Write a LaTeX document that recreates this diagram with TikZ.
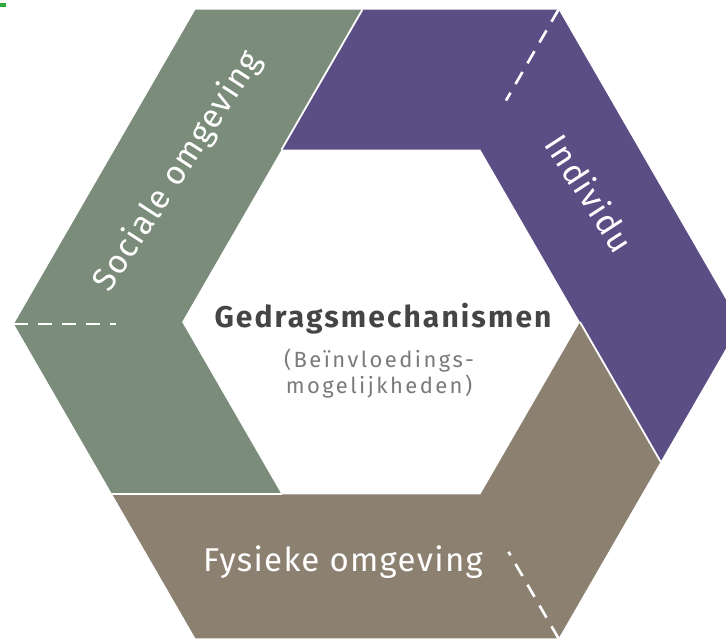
\documentclass[tikz,border=0pt]{standalone}
\usepackage{fontspec}
\setmainfont{Fira Sans}
\newfontfamily\titlefont{Fira Sans}[LetterSpace=7]
\newfontfamily\subfont{Fira Sans}[LetterSpace=11]
\newfontfamily\bandfont{Fira Sans}[LetterSpace=4]
\definecolor{sgreen}{HTML}{7B8C7B}
\definecolor{ipurple}{HTML}{5A4E85}
\definecolor{fbrown}{HTML}{8C8070}
\definecolor{tdark}{HTML}{454545}
\definecolor{tgray}{HTML}{7A7A7A}
\definecolor{markgreen}{HTML}{2FA83A}
\begin{document}
\begin{tikzpicture}[x={(1pt,0pt)}, y={(0pt,-1pt)},
  band/.style={draw=white, line width=1.8pt, line join=miter},
  dashline/.style={draw=white, line width=2.6pt, dash pattern=on 14pt off 10pt},
  bandlabel/.style={text=white, font=\bandfont\fontsize{33}{38}\selectfont, inner sep=0pt},
  title/.style={text=tdark, font=\titlefont\bfseries\fontsize{30}{34}\selectfont, inner sep=0pt},
  subtitle/.style={text=tgray, font=\subfont\fontsize{22}{26}\selectfont, inner sep=0pt},
]
\useasboundingbox (0,0) rectangle (726,638);
% outer hexagon
\coordinate (O0) at (740,324);
\coordinate (O60) at (558.5,9.6);
\coordinate (O120) at (195.5,9.6);
\coordinate (O180) at (14,324);
\coordinate (O240) at (195.5,638.4);
\coordinate (O300) at (558.5,638.4);
% inner hexagon
\coordinate (I0) at (580,322);
\coordinate (I60) at (480.5,149.7);
\coordinate (I120) at (281.5,149.7);
\coordinate (I180) at (182,322);
\coordinate (I240) at (281.5,494.3);
\coordinate (I300) at (480.5,494.3);
% split points
\coordinate (Pgp) at (362.4,9.6);
\coordinate (Ppb) at (660.6,461.6);
\coordinate (Pgb) at (112.3,494.3);
% dash ends
\coordinate (Dg) at (116,324);
\coordinate (Dp) at (506,100.5);
\coordinate (Db) at (508.5,551.8);
\begin{scope}
\clip (0,0) rectangle (726,638);
\fill[sgreen] (O120) -- (Pgp) -- (I120) -- (I180) -- (I240) -- (Pgb) -- (O180) -- cycle;
\fill[ipurple] (Pgp) -- (O60) -- (O0) -- (Ppb) -- (I0) -- (I60) -- (I120) -- cycle;
\fill[fbrown] (Ppb) -- (O300) -- (O240) -- (Pgb) -- (I240) -- (I300) -- (I0) -- cycle;
\draw[band] (Pgp) -- (I120);
\draw[band] (Ppb) -- (I0);
\draw[band] (Pgb) -- (I240);
\draw[dashline] (O180) -- (Dg);
\draw[dashline] (O60) -- (Dp);
\draw[dashline] (O300) -- (Db);
\end{scope}
\fill[markgreen] (0,3) rectangle (6,7);
% labels
\node[bandlabel, rotate=57] (soc) at (178,172) {Sociale omgeving};
\node[bandlabel, rotate=-57] (ind) at (590,193) {Individu};
\node[bandlabel, anchor=base] (fys) at (343,571) {Fysieke omgeving};
\node[title, anchor=base] (ged) at (383,327) {Gedragsmechanismen};
\node[subtitle, anchor=base] (bei) at (379,367) {(Beïnvloedings-};
\node[subtitle, anchor=base] (mog) at (379,393) {mogelijkheden)};
\end{tikzpicture}
\end{document}
